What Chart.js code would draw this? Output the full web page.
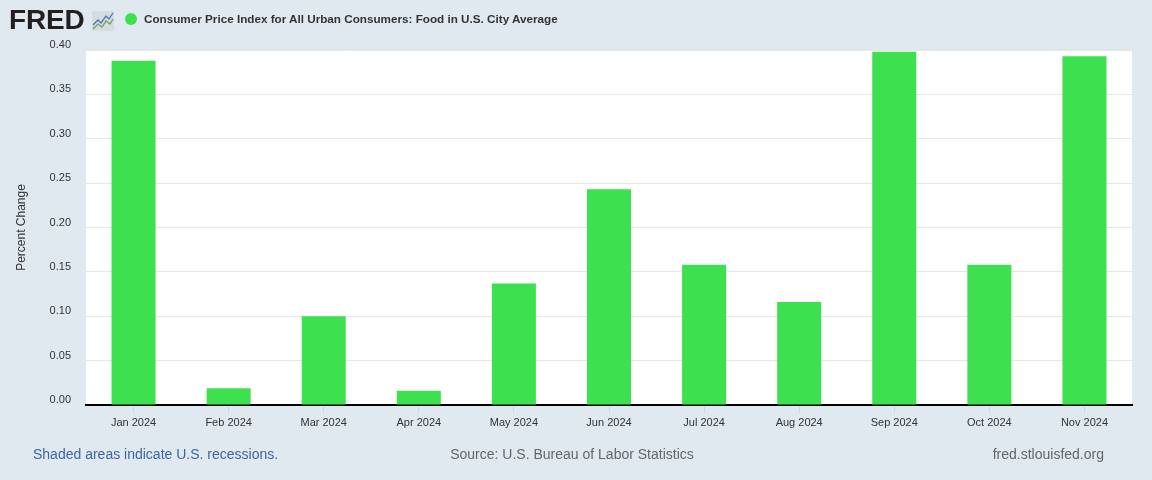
<!DOCTYPE html>
<html>
<head>
<meta charset="utf-8">
<script src="https://cdn.jsdelivr.net/npm/chart.js@4.4.1/dist/chart.umd.min.js"></script>
<style>
  html, body { margin: 0; padding: 0; }
  body {
    width: 1152px; height: 480px; overflow: hidden;
    background: #e1e9f0; position: relative;
    font-family: "Liberation Sans", Arial, sans-serif;
  }
  #wrap { position: absolute; left: 0; top: 0; width: 1152px; height: 480px; }
  .logo {
    position: absolute; left: 9px; top: 4px;
    font: bold 28px "Liberation Sans", Arial, sans-serif;
    color: #231f20; letter-spacing: -0.2px;
  }
  .icon { position: absolute; left: 92px; top: 11px; }
  .legend { position: absolute; left: 125px; top: 12px; font-size: 11.7px; color: #333; font-weight: bold; }
  .legend .dot {
    display: inline-block; width: 12px; height: 12px; border-radius: 50%;
    background: #3de150; vertical-align: -2px; margin-right: 7px;
  }
  .foot { position: absolute; top: 446px; font-size: 14px; color: #666; }
</style>
</head>
<body>
<div id="wrap"><canvas id="cpiChart" width="1152" height="480"></canvas></div>
<div class="logo">FRED</div>
<svg class="icon" width="22" height="20" viewBox="0 0 22 20">
  <rect x="0" y="0" width="22" height="20" rx="2" fill="#d6dbe0"/>
  <polyline points="1,14 6,9 9,12 14,5 17,8 21,2" fill="none" stroke="#4a78b8" stroke-width="1.3"/>
  <polyline points="1,18 6,13 10,16 14,10 18,13 21,8" fill="none" stroke="#6aa84f" stroke-width="1.3"/>
</svg>
<div class="legend"><span class="dot"></span>Consumer Price Index for All Urban Consumers: Food in U.S. City Average</div>
<div class="foot" style="left:33px;color:#3a66a6;">Shaded areas indicate U.S. recessions.</div>
<div class="foot" style="left:572px;transform:translateX(-50%);">Source: U.S. Bureau of Labor Statistics</div>
<div class="foot" style="right:48px;">fred.stlouisfed.org</div>
<script>
const months = ['Jan 2024', 'Feb 2024', 'Mar 2024', 'Apr 2024', 'May 2024', 'Jun 2024',
                'Jul 2024', 'Aug 2024', 'Sep 2024', 'Oct 2024', 'Nov 2024'];
const foodPctChange = [0.388, 0.019, 0.100, 0.016, 0.137, 0.243, 0.158, 0.116, 0.398, 0.158, 0.393];
const yMin = 0;
const yMax = 0.40;
const yStep = 0.05;

// white plot area
const plotBg = {
    id: 'plotBg',
    beforeDraw(chart) {
        const a = chart.chartArea;
        const ctx = chart.ctx;
        ctx.save();
        ctx.fillStyle = '#ffffff';
        ctx.fillRect(a.left, a.top, a.right - a.left, a.bottom - a.top);
        ctx.restore();
    }
};

const ctx = document.getElementById('cpiChart').getContext('2d');
const cpiChart = new Chart(ctx, {
    type: 'bar',
    data: {
        labels: months,
        datasets: [{
            label: 'Percent Change',
            data: foodPctChange,
            backgroundColor: '#3de150',
            borderWidth: 0,
            barPercentage: 0.463,
            categoryPercentage: 1.0
        }]
    },
    options: {
        responsive: false,
        animation: false,
        layout: { padding: { left: 10, right: 20, top: 50, bottom: 0 } },
        plugins: { legend: { display: false }, tooltip: { enabled: false } },
        scales: {
            x: {
                grid: { drawOnChartArea: false, offset: false, color: '#ccd6eb', tickLength: 8 },
                border: { color: '#000000', width: 2 },
                ticks: { color: '#333333', font: { size: 11, family: 'Liberation Sans' }, padding: 3, maxRotation: 0 },
                afterFit(s) { s.height = 75; }
            },
            y: {
                min: yMin,
                max: yMax,
                grid: { color: '#e6e6e6', drawTicks: false },
                border: { display: false },
                ticks: {
                    stepSize: yStep,
                    color: '#333333',
                    font: { size: 11, family: 'Liberation Sans' },
                    padding: 15,
                    labelOffset: -5,
                    callback: v => v.toFixed(2)
                },
                title: {
                    display: true,
                    text: 'Percent Change',
                    color: '#333333',
                    font: { size: 12, family: 'Liberation Sans' },
                    padding: { top: 4, bottom: 0 }
                },
                afterFit(s) { s.width = 76; }
            }
        }
    },
    plugins: [plotBg]
});
</script>
</body>
</html>
